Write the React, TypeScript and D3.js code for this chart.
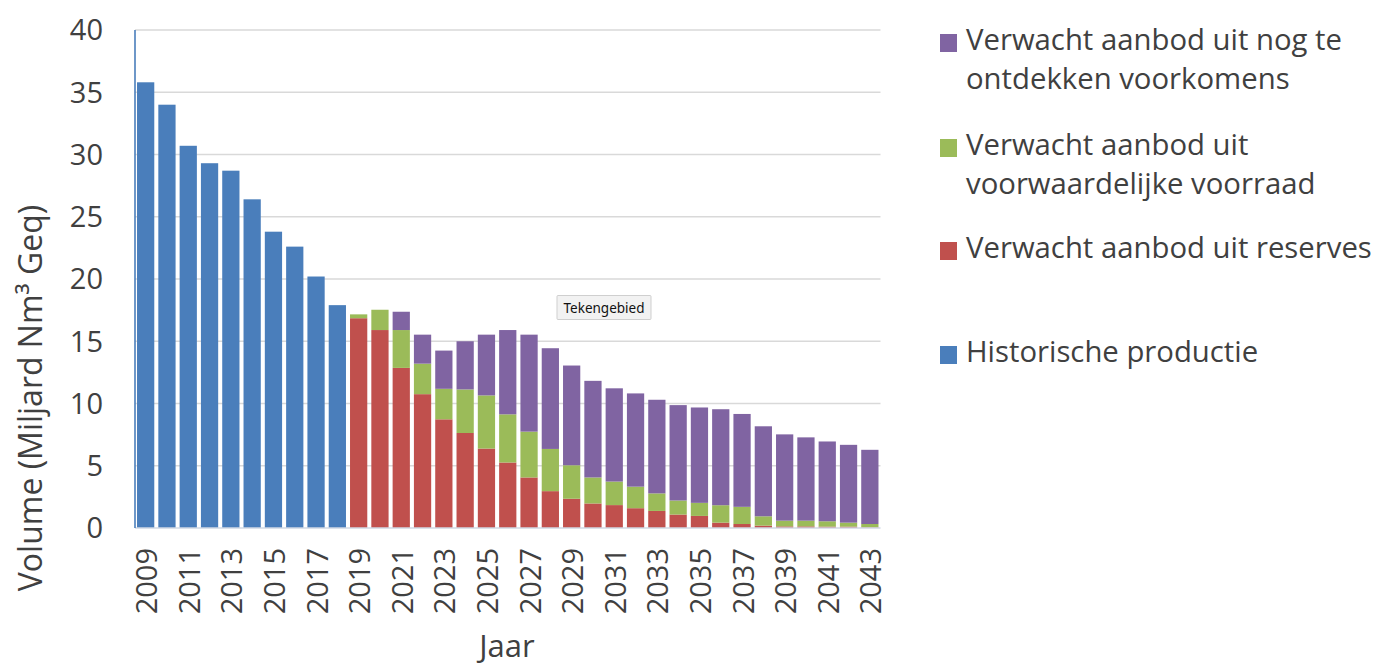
import React from "react";
import * as d3 from "d3";

const years = [
  "2009","2010","2011","2012","2013","2014","2015","2016","2017","2018",
  "2019","2020","2021","2022","2023","2024","2025","2026","2027","2028",
  "2029","2030","2031","2032","2033","2034","2035","2036","2037","2038",
  "2039","2040","2041","2042","2043",
];
const tickYears = ["2009","2011","2013","2015","2017","2019","2021","2023","2025","2027","2029","2031","2033","2035","2037","2039","2041","2043"];

const historisch = [35.8, 34.0, 30.7, 29.3, 28.7, 26.4, 23.8, 22.6, 20.2, 17.9];
// forecast years 2019..2043
const reserves = [16.85, 15.9, 12.86, 10.75, 8.73, 7.63, 6.38, 5.26, 4.06, 2.96, 2.35, 1.97, 1.84, 1.59, 1.37, 1.08, 0.97, 0.43, 0.32, 0.19, 0.13, 0.13, 0.11, 0.11, 0.05];
const voorwaardelijk = [0.31, 1.63, 3.04, 2.45, 2.45, 3.5, 4.27, 3.87, 3.68, 3.39, 2.69, 2.09, 1.89, 1.73, 1.41, 1.13, 1.05, 1.4, 1.38, 0.75, 0.46, 0.46, 0.43, 0.32, 0.27];
const ontdekken = [0, 0, 1.47, 2.33, 3.07, 3.87, 4.88, 6.77, 7.79, 8.09, 8.01, 7.76, 7.49, 7.49, 7.52, 7.66, 7.66, 7.71, 7.46, 7.23, 6.93, 6.69, 6.41, 6.25, 5.96];

const yTicks = [0, 5, 10, 15, 20, 25, 30, 35, 40];

const seriesKeys = ["historisch", "reserves", "voorwaardelijk", "ontdekken"];
const colors: Record<string, string> = {
  historisch: "#4a7ebb",
  reserves: "#c0504d",
  voorwaardelijk: "#9bbb59",
  ontdekken: "#8064a2",
};

const legendItems = [
  { key: "ontdekken", lines: ["Verwacht aanbod uit nog te", "ontdekken voorkomens"], y: 50 },
  { key: "voorwaardelijk", lines: ["Verwacht aanbod uit", "voorwaardelijke voorraad"], y: 155 },
  { key: "reserves", lines: ["Verwacht aanbod uit reserves"], y: 258 },
  { key: "historisch", lines: ["Historische productie"], y: 362 },
];

const FONT = "'Open Sans', sans-serif";
const TEXT = "#404040";

export default function App() {
  const nHist = historisch.length;
  const table = years.map((yr, i) => ({
    year: yr,
    historisch: i < nHist ? historisch[i] : 0,
    reserves: i >= nHist ? reserves[i - nHist] : 0,
    voorwaardelijk: i >= nHist ? voorwaardelijk[i - nHist] : 0,
    ontdekken: i >= nHist ? ontdekken[i - nHist] : 0,
  }));
  const stack = d3.stack<any>().keys(seriesKeys);
  const stacked = stack(table);

  const x = d3.scaleBand<string>().domain(years).range([135, 880.5]).paddingInner(0.19).paddingOuter(0.095);
  const y = d3.scaleLinear().domain([0, 40]).range([528, 30]);
  const x0 = 135, x1 = 880.5;

  return (
    <svg width={1376} height={665} style={{ position: "absolute", left: 0, top: 0, background: "#fff" }} fontFamily={FONT}>
      <rect x={0} y={0} width={1376} height={665} fill="#ffffff" />
      {yTicks.filter((t) => t > 0).map((t) => (
        <line key={t} x1={x0} x2={x1} y1={y(t)} y2={y(t)} stroke="#d9d9d9" strokeWidth={1.3} />
      ))}
      {stacked.map((s) => (
        <g key={s.key} fill={colors[s.key]}>
          {s.map((d, i) =>
            d[1] - d[0] > 0 ? (
              <rect key={i} x={x(years[i])} y={y(d[1])} width={x.bandwidth()} height={y(d[0]) - y(d[1])} />
            ) : null
          )}
        </g>
      ))}
      <line x1={x0} x2={x1} y1={y(0)} y2={y(0)} stroke="#d0d8e4" strokeWidth={1.3} />
      <line x1={x0} x2={x0} y1={y(40)} y2={y(0)} stroke="#4a7ebb" strokeWidth={1.6} />
      {yTicks.map((t) => (
        <text key={t} x={103} y={y(t)} dy="0.36em" textAnchor="end" fontSize={29} fill={TEXT}>
          {t}
        </text>
      ))}
      {tickYears.map((yr) => (
        <text
          key={yr}
          transform={`translate(${(x(yr) as number) + x.bandwidth() / 2 + 1},548) rotate(-90)`}
          textAnchor="end"
          dy="0.36em"
          fontSize={29}
          fill={TEXT}
        >
          {yr}
        </text>
      ))}
      <text transform="translate(30,398) rotate(-90)" textAnchor="middle" dy="0.36em" fontSize={32} fill={TEXT}>
        Volume (Miljard Nm³ Geq)
      </text>
      <text x={507} y={657} textAnchor="middle" fontSize={31} fill={TEXT}>
        Jaar
      </text>
      {legendItems.map((it) => (
        <g key={it.key}>
          <rect x={940} y={it.y - 16} width={17} height={18} fill={colors[it.key]} />
          {it.lines.map((ln, j) => (
            <text key={j} x={966} y={it.y + j * 39} fontSize={29.3} fill={TEXT}>
              {ln}
            </text>
          ))}
        </g>
      ))}
      <g>
        <rect x={557} y={295.5} width={94} height={24} fill="#f2f2f2" stroke="#cfcfcf" strokeWidth={1} rx={1} />
        <text x={604} y={308} dy="0.36em" textAnchor="middle" fontSize={13.5} fill="#111" fontFamily="'Noto Sans', sans-serif">
          Tekengebied
        </text>
      </g>
    </svg>
  );
}
